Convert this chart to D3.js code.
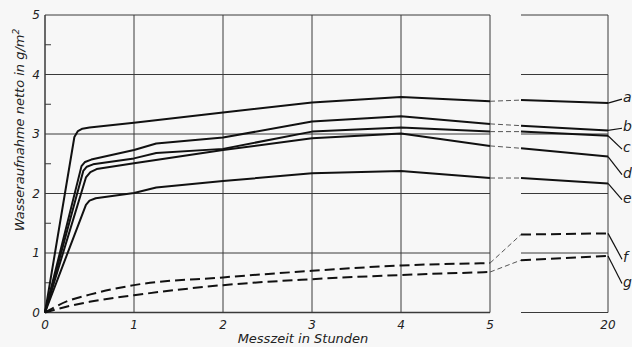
<!DOCTYPE html>
<html>
<head>
<meta charset="utf-8">
<script src="https://cdn.jsdelivr.net/npm/d3@7"></script>
<style>
  body { margin: 0; background: #f7f7f7; }
  svg { display: block; }
  text { font-family: "DejaVu Sans", "Liberation Sans", sans-serif; font-style: italic; fill: #222; }
</style>
</head>
<body>
<script>
// values (hours, g/m2)
var curveA = [[0,0],[0.33,2.95],[0.37,3.05],[0.42,3.09],[0.5,3.11],[1,3.19],[2,3.36],[3,3.53],[4,3.62],[5,3.55]]
var curveB = [[0,0],[0.41,2.46],[0.45,2.53],[0.52,2.57],[1,2.73],[1.25,2.84],[2,2.94],[3,3.21],[4,3.30],[5,3.17]]
var curveC = [[0,0],[0.43,2.38],[0.47,2.45],[0.54,2.49],[1,2.59],[1.25,2.68],[2,2.75],[3,3.04],[4,3.11],[5,3.04]]
var curveD = [[0,0],[0.46,2.27],[0.51,2.36],[0.58,2.41],[1,2.51],[2,2.73],[3,2.93],[4,3.01],[5,2.80]]
var curveE = [[0,0],[0.46,1.81],[0.5,1.88],[0.57,1.92],[1,2.01],[1.25,2.10],[2,2.21],[3,2.34],[4,2.38],[5,2.26]]
var curveF = [[0,0],[0.25,0.19],[0.5,0.30],[1,0.46],[2,0.59],[3,0.70],[4,0.79],[5,0.83]]
var curveG = [[0,0],[0.25,0.10],[0.5,0.18],[1,0.29],[2,0.46],[3,0.56],[4,0.63],[5,0.68]]

var names = ['a','b','c','d','e','f','g']
var dashedNames = ['f','g']
// right panel (20 h): value at its left edge and at 20 h
var rightStart = [3.57, 3.14, 3.04, 2.76, 2.26, 1.31, 0.88]
var rightEnd   = [3.52, 3.06, 2.97, 2.62, 2.17, 1.33, 0.95]
// where the letter sits (in g/m2)
var labelAt    = [3.62, 3.13, 2.78, 2.35, 1.93, 0.93, 0.52]

var xTicks = [0,1,2,3,4,5]
var yTicks = [0,1,2,3,4,5]
var yMinor = [0.5,1.5,2.5,3.5,4.5]

var series = [curveA, curveB, curveC, curveD, curveE, curveF, curveG]

var svg = d3.select(document.body).append('svg')
  .attr('width', 632).attr('height', 347)

var x = d3.scaleLinear().domain([0,5]).range([45,490])
var xr = d3.scaleLinear().domain([18,20]).range([521,608])
var y = d3.scaleLinear().domain([0,5]).range([312.5,15])

var grid = svg.append('g').attr('stroke', '#3a3a3a').attr('stroke-width', 1).attr('fill', 'none')

// left panel grid
grid.selectAll('.hl').data(yTicks).enter().append('line')
  .attr('x1', x(0)).attr('x2', x(5))
  .attr('y1', function(d){ return y(d) }).attr('y2', function(d){ return y(d) })
  .attr('stroke-width', function(d){ return d == 0 ? 1.5 : 1 })
grid.selectAll('.vl').data(xTicks).enter().append('line')
  .attr('x1', function(d){ return x(d) }).attr('x2', function(d){ return x(d) })
  .attr('y1', y(0)).attr('y2', y(5))
  .attr('stroke-width', function(d){ return d == 0 ? 1.5 : 1 })
grid.selectAll('.mt').data(yMinor).enter().append('line')
  .attr('x1', x(0)).attr('x2', x(0) + 6)
  .attr('y1', function(d){ return y(d) }).attr('y2', function(d){ return y(d) })

// right panel grid
grid.selectAll('.hr').data(yTicks).enter().append('line')
  .attr('x1', xr(18)).attr('x2', xr(20))
  .attr('y1', function(d){ return y(d) }).attr('y2', function(d){ return y(d) })
grid.append('line')
  .attr('x1', xr(20)).attr('x2', xr(20)).attr('y1', y(0)).attr('y2', y(5))

// tick labels
svg.selectAll('.xt').data(xTicks).enter().append('text')
  .attr('x', function(d){ return x(d) }).attr('y', 329)
  .attr('text-anchor', 'middle').attr('font-size', 12)
  .text(function(d){ return d })
svg.append('text').attr('x', xr(20)).attr('y', 329)
  .attr('text-anchor', 'middle').attr('font-size', 12).text('20')
svg.selectAll('.yt').data(yTicks).enter().append('text')
  .attr('x', 40).attr('y', function(d){ return y(d) + 4 })
  .attr('text-anchor', 'end').attr('font-size', 12)
  .text(function(d){ return d })

// axis titles
svg.append('text').attr('x', 303).attr('y', 343)
  .attr('text-anchor', 'middle').attr('font-size', 13)
  .text('Messzeit in Stunden')
var yt = svg.append('text')
  .attr('transform', 'translate(24,130) rotate(-90)')
  .attr('text-anchor', 'middle').attr('font-size', 13)
yt.append('tspan').text('Wasseraufnahme netto in g/m')
yt.append('tspan').attr('dy', -5).attr('font-size', 9).text('2')

var line = d3.line()
  .x(function(d){ return x(d[0]) })
  .y(function(d){ return y(d[1]) })

var curves = svg.append('g').attr('fill', 'none').attr('stroke', '#111')

series.forEach(function(s, i) {
  var dashed = dashedNames.indexOf(names[i]) >= 0
  var last = s[s.length - 1]
  curves.append('path')
    .attr('d', line.curve(dashed ? d3.curveMonotoneX : d3.curveLinear)(s))
    .attr('stroke-width', 2)
    .attr('stroke-linejoin', 'round')
    .attr('stroke-dasharray', dashed ? '10,5' : null)
  // bridge to right panel
  curves.append('line')
    .attr('x1', x(last[0])).attr('y1', y(last[1]))
    .attr('x2', xr(18)).attr('y2', y(rightStart[i]))
    .attr('stroke-width', 1).attr('stroke', '#555')
    .attr('stroke-dasharray', '5,3')
  // right panel segment
  curves.append('line')
    .attr('x1', xr(18)).attr('y1', y(rightStart[i]))
    .attr('x2', xr(20)).attr('y2', y(rightEnd[i]))
    .attr('stroke-width', 2)
    .attr('stroke-dasharray', dashed ? '10,5' : null)
  // leader and letter
  curves.append('line')
    .attr('x1', xr(20)).attr('y1', y(rightEnd[i]))
    .attr('x2', 622).attr('y2', y(labelAt[i]) + 2)
    .attr('stroke-width', 1.2)
  svg.append('text')
    .attr('x', 623).attr('y', y(labelAt[i]) + 5)
    .attr('font-size', 14)
    .text(names[i])
})
</script>
</body>
</html>
